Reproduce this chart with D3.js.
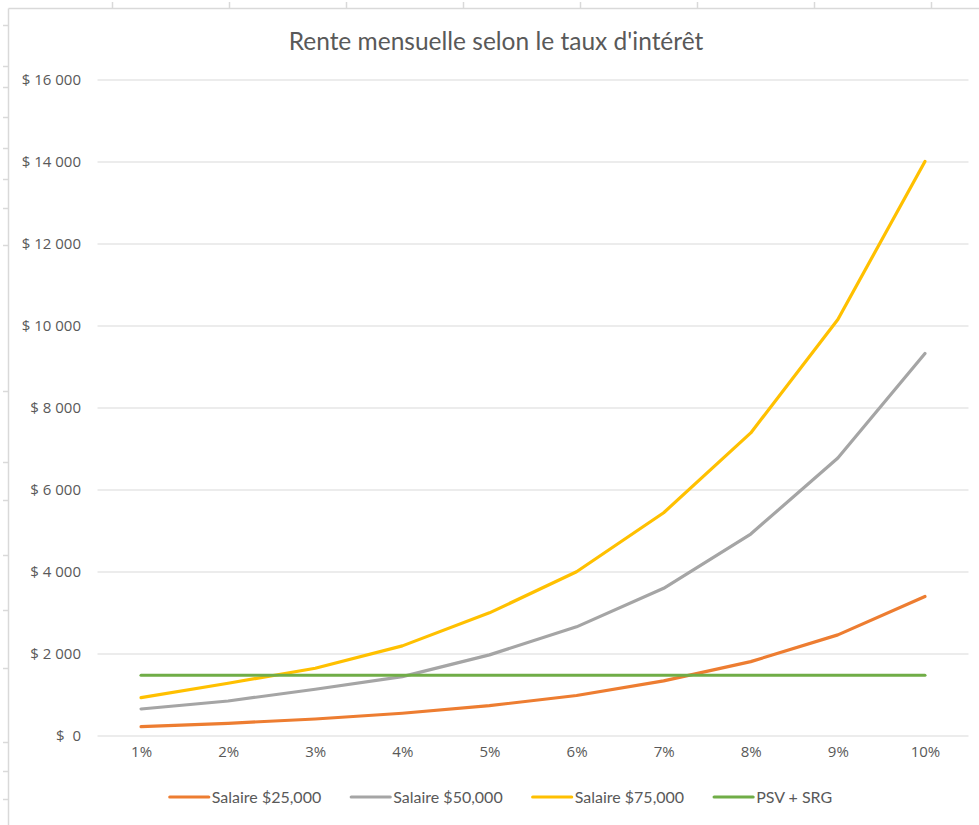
<!DOCTYPE html>
<html>
<head>
<meta charset="utf-8">
<script src="https://cdn.jsdelivr.net/npm/d3@7"></script>
<style>
  html, body { margin: 0; padding: 0; background: #ffffff; }
  svg { display: block; }
</style>
</head>
<body>
<script>
// ---- Data ----
const categories = ["1%", "2%", "3%", "4%", "5%", "6%", "7%", "8%", "9%", "10%"];
const salaire25 = [215, 298, 403, 542, 728, 975, 1331, 1802, 2454, 3390];
const salaire50 = [647, 842, 1128, 1436, 1966, 2650, 3590, 4913, 6769, 9316];
const salaire75 = [923, 1275, 1641, 2186, 2991, 3993, 5433, 7380, 10147, 14000];
const psvSrg = [1470, 1470, 1470, 1470, 1470, 1470, 1470, 1470, 1470, 1470];
const seriesNames = ["Salaire $25,000", "Salaire $50,000", "Salaire $75,000", "PSV + SRG"];
const yTickValues = [0, 2000, 4000, 6000, 8000, 10000, 12000, 14000, 16000];
const yTickLabels = ["$\u00a0\u00a00", "$ 2 000", "$ 4 000", "$ 6 000", "$ 8 000", "$ 10 000", "$ 12 000", "$ 14 000", "$ 16 000"];
const title = "Rente mensuelle selon le taux d'intérêt";

// ---- Layout / style ----
const W = 979, H = 825;
const colors = ["#ED7D31", "#A5A5A5", "#FFC000", "#70AD47"];
const seriesData = [salaire25, salaire50, salaire75, psvSrg];
const textColor = "#595959";
const gridColor = "#d9d9d9";

const svg = d3.select("body").append("svg").attr("width", W).attr("height", H);

// Spreadsheet frame decoration (cell borders around the chart)
const frame = svg.append("g");
frame.append("line").attr("x1", 8.5).attr("x2", W).attr("y1", 8.5).attr("y2", 8.5)
  .attr("stroke", gridColor).attr("stroke-width", 1.5);
frame.append("line").attr("x1", 8.5).attr("x2", 8.5).attr("y1", 8.5).attr("y2", H)
  .attr("stroke", gridColor).attr("stroke-width", 1.5);
const topTicks = d3.range(112, W, 117);
frame.selectAll(".tt").data(topTicks).enter().append("line")
  .attr("x1", d => d + 0.5).attr("x2", d => d + 0.5).attr("y1", 2).attr("y2", 8)
  .attr("stroke", gridColor).attr("stroke-width", 1.5);
const leftTicks = [25, 66, 87, 117, 148, 179, 208, 245, 391, 462, 500, 555, 610, 668, 742, 771, 799];
frame.selectAll(".lt").data(leftTicks).enter().append("line")
  .attr("x1", 3).attr("x2", 8).attr("y1", d => d + 0.5).attr("y2", d => d + 0.5)
  .attr("stroke", gridColor).attr("stroke-width", 1.5);

// Scales
const x = d3.scalePoint().domain(categories).range([97.5, 968.5]).padding(0.5);
const y = d3.scaleLinear().domain([0, 16000]).range([735.5, 79.5]);

// Title
svg.append("text")
  .attr("x", 496).attr("y", 50)
  .attr("text-anchor", "middle")
  .attr("font-family", "Lato, 'Open Sans', sans-serif")
  .attr("font-size", 24.5)
  .attr("fill", textColor)
  .text(title);

// Gridlines via axis
const gridAxis = d3.axisLeft(y).tickValues(yTickValues).tickSize(-(968.5 - 97.5)).tickFormat("");
const gg = svg.append("g").attr("transform", "translate(97.5,0)").call(gridAxis);
gg.select(".domain").remove();
gg.selectAll(".tick line").attr("stroke", gridColor).attr("stroke-width", 1);

// Y labels
const yAxis = d3.axisLeft(y).tickValues(yTickValues).tickSize(0).tickPadding(0)
  .tickFormat((d, i) => yTickLabels[i]);
const ya = svg.append("g").attr("transform", "translate(81,0)").call(yAxis);
ya.select(".domain").remove();
ya.selectAll("text").attr("font-family", "'Open Sans', sans-serif").attr("font-size", 15)
  .attr("fill", textColor).attr("xml:space", "preserve");

// X labels
const xAxis = d3.axisBottom(x).tickSize(0).tickPadding(0);
const xa = svg.append("g").attr("transform", "translate(0,746)").call(xAxis);
xa.select(".domain").remove();
xa.selectAll("text").attr("font-family", "'Open Sans', sans-serif").attr("font-size", 15)
  .attr("fill", textColor);

// Lines
const line = d3.line().x((d, i) => x(categories[i])).y(d => y(d));
seriesData.forEach((s, k) => {
  svg.append("path").datum(s)
    .attr("d", line)
    .attr("fill", "none")
    .attr("stroke", colors[k])
    .attr("stroke-width", 3.2)
    .attr("stroke-linecap", "round")
    .attr("stroke-linejoin", "round");
});

// Legend
const lg = svg.append("g");
const legendY = 797;
const lineLen = 39, gapText = 3, gapItem = 30;
let cx = 0;
seriesNames.forEach((name, k) => {
  const g = lg.append("g");
  g.append("line").attr("x1", cx).attr("x2", cx + lineLen).attr("y1", legendY).attr("y2", legendY)
    .attr("stroke", colors[k]).attr("stroke-width", 3.2).attr("stroke-linecap", "round");
  const t = g.append("text").attr("x", cx + lineLen + gapText).attr("y", legendY)
    .attr("dy", "0.35em")
    .attr("font-family", "Lato, 'Open Sans', sans-serif")
    .attr("font-size", 16)
    .attr("fill", textColor)
    .text(name);
  const w = t.node().getComputedTextLength();
  cx += lineLen + gapText + w + gapItem;
});
const totalW = cx - gapItem;
lg.attr("transform", `translate(${501 - totalW / 2},0)`);
</script>
</body>
</html>
